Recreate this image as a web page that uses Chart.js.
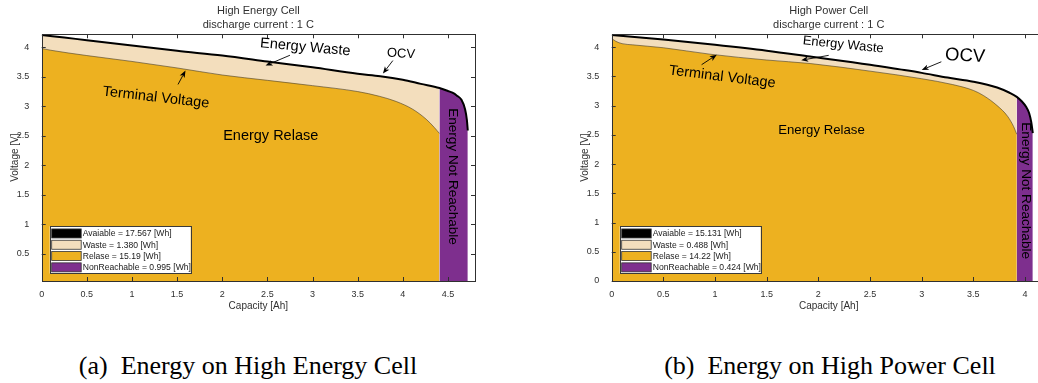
<!DOCTYPE html>
<html>
<head>
<meta charset="utf-8">
<script src="https://cdn.jsdelivr.net/npm/chart.js@4.4.1/dist/chart.umd.min.js"></script>
<style>
  html, body { margin: 0; padding: 0; background: #fff; overflow: hidden; width: 1038px; height: 383px; }
  canvas { position: absolute; top: 0; }
  #heChart { left: 0; }
  #hpChart { left: 520px; }
  .caption {
    position: absolute; top: 353px; white-space: nowrap; transform: translateX(-50%);
    font-family: "Liberation Serif", "Times New Roman", serif; font-size: 26px; line-height: 1; color: #000;
  }
</style>
</head>
<body>
<canvas id="heChart" width="519" height="320"></canvas>
<canvas id="hpChart" width="540" height="320"></canvas>
<div class="caption" style="left:248px">(a)&nbsp;&nbsp;Energy on High Energy Cell</div>
<div class="caption" style="left:830px">(b)&nbsp;&nbsp;Energy on High Power Cell</div>

<script>
// ---- High energy cell (1 C discharge) ----
const heOcvCap = [0, 0.25, 0.5, 1, 1.5, 2, 2.5, 3, 3.5, 3.75, 4.0, 4.2, 4.406, 4.5, 4.55, 4.6, 4.65, 4.69, 4.71, 4.72];
const heOcvV   = [4.21, 4.165, 4.12, 4.03, 3.94, 3.86, 3.76, 3.66, 3.55, 3.51, 3.45, 3.38, 3.31, 3.26, 3.23, 3.18, 3.11, 2.95, 2.77, 2.59];
const heTvCap  = [0, 0.1, 0.5, 1, 1.5, 2, 2.5, 3, 3.5, 3.74, 3.93, 4.11, 4.26, 4.35, 4.406];
const heTvV    = [3.98, 3.95, 3.86, 3.76, 3.65, 3.53, 3.44, 3.35, 3.25, 3.17, 3.08, 2.95, 2.78, 2.64, 2.54];
const heLegend = ['Avaiable = 17.567 [Wh]', 'Waste = 1.380 [Wh]', 'Relase = 15.19 [Wh]', 'NonReachable = 0.995 [Wh]'];
const heTitle  = ['High Energy Cell', 'discharge current : 1 C'];

// ---- High power cell (1 C discharge) ----
const hpOcvCap = [0, 0.5, 1, 1.5, 1.92, 2.5, 2.79, 3.0, 3.25, 3.5, 3.73, 3.85, 3.92, 3.97, 4.01, 4.04, 4.06, 4.075];
const hpOcvV   = [4.21, 4.13, 4.04, 3.94, 3.84, 3.70, 3.62, 3.56, 3.48, 3.41, 3.31, 3.22, 3.15, 3.07, 2.98, 2.87, 2.72, 2.53];
const hpTvCap  = [0, 0.04, 0.1, 0.2, 0.5, 0.95, 1.5, 1.92, 2.5, 3.0, 3.3, 3.5, 3.6, 3.73, 3.83, 3.89, 3.92];
const hpTvV    = [4.15, 4.10, 4.06, 4.04, 3.99, 3.88, 3.78, 3.72, 3.59, 3.46, 3.36, 3.26, 3.17, 3.00, 2.82, 2.64, 2.51];
const hpLegend = ['Avaiable = 15.131 [Wh]', 'Waste = 0.488 [Wh]', 'Relase = 14.22 [Wh]', 'NonReachable = 0.424 [Wh]'];
const hpTitle  = ['High Power Cell', 'discharge current : 1 C'];

const xTickStep = 0.5;
const yTickStep = 0.5;

const SANS = "'Liberation Sans', Arial, Helvetica, sans-serif";
const AXIS_INK = '#303030';
const COLORS = { available: '#000000', waste: '#F3DEBD', release: '#EDB120', lost: '#7E2F8E' };

Chart.defaults.font.family = SANS;

// Tick text without trailing zeros (4 rather than 4.0)
const plainNumber = v => String(+Number(v).toFixed(2));

// Inward ticks on all four sides plus the box outline
const axesFrame = {
  id: 'axesFrame',
  afterDatasetsDraw(chart) {
    const { ctx, chartArea: a, scales: { x, y } } = chart;
    const tl = 4;
    ctx.save();
    ctx.strokeStyle = AXIS_INK;
    ctx.lineWidth = 1;
    ctx.beginPath();
    x.ticks.forEach(t => {
      const px = Math.round(x.getPixelForValue(t.value)) + 0.5;
      ctx.moveTo(px, a.top); ctx.lineTo(px, a.top + tl);
      ctx.moveTo(px, a.bottom); ctx.lineTo(px, a.bottom - tl);
    });
    y.ticks.forEach(t => {
      const py = Math.round(y.getPixelForValue(t.value)) + 0.5;
      ctx.moveTo(a.left, py); ctx.lineTo(a.left + tl, py);
      ctx.moveTo(a.right, py); ctx.lineTo(a.right - tl, py);
    });
    ctx.stroke();
    ctx.strokeRect(Math.round(a.left) + 0.5, Math.round(a.top) + 0.5,
                   Math.round(a.right - a.left), Math.round(a.bottom - a.top));
    ctx.restore();
  }
};

// Text labels and arrows placed in data coordinates
const annotations = {
  id: 'annotations',
  afterDraw(chart, args, opts) {
    const { ctx, scales: { x, y } } = chart;
    ctx.save();
    (opts.arrows || []).forEach(ar => {
      const x0 = x.getPixelForValue(ar.from[0]), y0 = y.getPixelForValue(ar.from[1]);
      const x1 = x.getPixelForValue(ar.to[0]), y1 = y.getPixelForValue(ar.to[1]);
      const ang = Math.atan2(y1 - y0, x1 - x0);
      const hl = 7, hw = 2.8;
      ctx.strokeStyle = '#000'; ctx.fillStyle = '#000'; ctx.lineWidth = 0.9;
      ctx.beginPath();
      ctx.moveTo(x0, y0);
      ctx.lineTo(x1 - Math.cos(ang) * hl * 0.8, y1 - Math.sin(ang) * hl * 0.8);
      ctx.stroke();
      ctx.beginPath();
      ctx.moveTo(x1, y1);
      ctx.lineTo(x1 - Math.cos(ang) * hl - Math.sin(ang) * hw, y1 - Math.sin(ang) * hl + Math.cos(ang) * hw);
      ctx.lineTo(x1 - Math.cos(ang) * hl * 0.75, y1 - Math.sin(ang) * hl * 0.75);
      ctx.lineTo(x1 - Math.cos(ang) * hl + Math.sin(ang) * hw, y1 - Math.sin(ang) * hl - Math.cos(ang) * hw);
      ctx.closePath();
      ctx.fill();
    });
    (opts.texts || []).forEach(t => {
      ctx.save();
      ctx.translate(x.getPixelForValue(t.x), y.getPixelForValue(t.y));
      ctx.rotate((t.rot || 0) * Math.PI / 180);
      ctx.font = t.size + 'px ' + SANS;
      ctx.fillStyle = '#000';
      ctx.textAlign = 'center';
      ctx.textBaseline = 'middle';
      ctx.fillText(t.text, 0, 0);
      ctx.restore();
    });
    ctx.restore();
  }
};

// Boxed legend in the lower-left corner of the axes
const boxLegend = {
  id: 'boxLegend',
  afterDraw(chart) {
    const { ctx, chartArea: a } = chart;
    const ds = chart.data.datasets;
    const w = 141, rowH = 11.3, h = rowH * ds.length + 2;
    const left = a.left + 8, top = a.bottom - 7.5 - h;
    ctx.save();
    ctx.fillStyle = '#fff';
    ctx.fillRect(left, top, w, h);
    ctx.strokeStyle = '#3a3a3a';
    ctx.lineWidth = 1;
    ctx.strokeRect(Math.round(left) + 0.5, Math.round(top) + 0.5, w, Math.round(h));
    ctx.font = '8.6px ' + SANS;
    ctx.textBaseline = 'middle';
    ds.forEach((d, i) => {
      const cy = top + 1.5 + rowH * i + rowH / 2;
      ctx.fillStyle = d.backgroundColor;
      ctx.fillRect(left + 2, cy - 4.5, 29.5, 9);
      ctx.strokeStyle = '#333';
      ctx.lineWidth = 0.8;
      ctx.strokeRect(left + 2, cy - 4.5, 29.5, 9);
      ctx.fillStyle = '#1a1a1a';
      ctx.fillText(d.label, left + 33, cy + 0.5);
    });
    ctx.restore();
  }
};

function pairs(xs, ys) { return xs.map((v, i) => ({ x: v, y: ys[i] })); }

function buildPanel(canvasId, p) {
  const ocv = pairs(p.ocvCap, p.ocvV);
  const tv = pairs(p.tvCap, p.tvV);
  const cutoff = p.tvCap[p.tvCap.length - 1];
  const waste = ocv.filter(pt => pt.x <= cutoff);
  const lost = ocv.filter(pt => pt.x >= cutoff);
  const curve = { pointRadius: 0, pointHoverRadius: 0, cubicInterpolationMode: 'monotone' };

  return new Chart(document.getElementById(canvasId), {
    type: 'line',
    data: {
      datasets: [
        { ...curve, label: p.legend[0], data: ocv, borderColor: COLORS.available, backgroundColor: COLORS.available, borderWidth: 2, fill: false, order: 0 },
        { ...curve, label: p.legend[1], data: waste, borderColor: COLORS.waste, backgroundColor: COLORS.waste, borderWidth: 0, fill: 'origin', order: 4 },
        { ...curve, label: p.legend[2], data: tv, borderColor: 'rgba(70,60,40,0.75)', backgroundColor: COLORS.release, borderWidth: 0.8, fill: 'origin', order: 3 },
        { ...curve, label: p.legend[3], data: lost, borderColor: COLORS.lost, backgroundColor: COLORS.lost, borderWidth: 0, fill: 'origin', order: 2 }
      ]
    },
    options: {
      responsive: false,
      devicePixelRatio: 1,
      animation: false,
      events: [],
      layout: { padding: p.padding },
      scales: {
        x: {
          type: 'linear', min: 0, max: p.xMax,
          grid: { display: false }, border: { display: false },
          ticks: { stepSize: xTickStep, includeBounds: false, padding: 0, color: AXIS_INK, font: { size: 9 }, callback: plainNumber },
          title: { display: true, text: 'Capacity [Ah]', color: AXIS_INK, font: { size: 10 }, padding: { top: 0, bottom: 8 } },
          afterFit: s => { s.height = 39; }
        },
        y: {
          type: 'linear', min: p.yMin, max: 4.22,
          grid: { display: false }, border: { display: false },
          ticks: { stepSize: yTickStep, includeBounds: false, padding: 4.5, color: AXIS_INK, font: { size: 9 }, callback: plainNumber },
          title: { display: true, text: 'Voltage [V]', color: AXIS_INK, font: { size: 10 }, padding: { top: p.yTitlePad, bottom: 0 } },
          afterFit: s => { s.width = 41.7; }
        }
      },
      plugins: {
        legend: { display: false },
        tooltip: { enabled: false },
        title: {
          display: true, text: p.title, fullSize: false, color: AXIS_INK,
          font: { size: 11, weight: 'normal', lineHeight: 14 / 11 },
          padding: { top: 4, bottom: 2.3 }
        },
        annotations: { texts: p.texts, arrows: p.arrows }
      }
    },
    plugins: [axesFrame, annotations, boxLegend]
  });
}

buildPanel('heChart', {
  ocvCap: heOcvCap, ocvV: heOcvV, tvCap: heTvCap, tvV: heTvV,
  legend: heLegend, title: heTitle, xMax: 4.8, yMin: 0.04, yTitlePad: 9,
  padding: { left: 0, top: 0, right: 44, bottom: 0 },
  texts: [
    { text: 'Energy Waste', x: 2.92, y: 4.0, size: 14.5, rot: 5.2 },
    { text: 'OCV', x: 3.98, y: 3.89, size: 13, rot: 3 },
    { text: 'Terminal Voltage', x: 1.265, y: 3.148, size: 14.5, rot: 6.5 },
    { text: 'Energy Relase', x: 2.537, y: 2.49, size: 14.5, rot: 0 },
    { text: 'Energy Not Reachable', x: 4.553, y: 1.81, size: 13.6, rot: 90 }
  ],
  arrows: [
    { from: [2.75, 3.865], to: [2.48, 3.69] },
    { from: [3.89, 3.775], to: [3.78, 3.555] },
    { from: [1.51, 3.37], to: [1.593, 3.605] }
  ]
});

buildPanel('hpChart', {
  ocvCap: hpOcvCap, ocvV: hpOcvV, tvCap: hpTvCap, tvV: hpTvV,
  legend: hpLegend, title: hpTitle, xMax: 4.2, yMin: 0, yTitlePad: 9.7,
  padding: { left: 50, top: 0, right: 14.3, bottom: 0 },
  texts: [
    { text: 'Energy Waste', x: 2.24, y: 4.04, size: 13, rot: 5.8 },
    { text: 'OCV', x: 3.42, y: 3.85, size: 18.5, rot: 3 },
    { text: 'Terminal Voltage', x: 1.07, y: 3.49, size: 14.5, rot: 7 },
    { text: 'Energy Relase', x: 2.03, y: 2.58, size: 13.2, rot: 0 },
    { text: 'Energy Not Reachable', x: 4.005, y: 1.545, size: 13.6, rot: 90 }
  ],
  arrows: [
    { from: [2.10, 3.86], to: [1.834, 3.776] },
    { from: [3.19, 3.75], to: [3.0, 3.61] },
    { from: [0.87, 3.70], to: [1.017, 3.87] }
  ]
});
</script>
</body>
</html>
